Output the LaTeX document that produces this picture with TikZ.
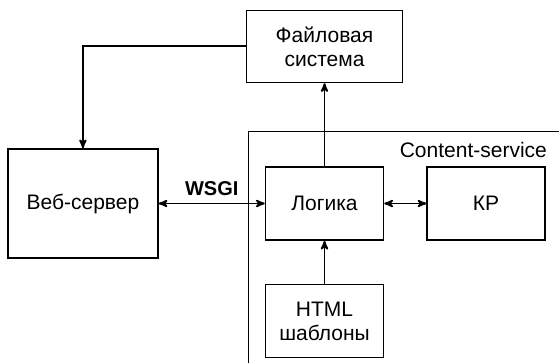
\documentclass[tikz,border=0pt]{standalone}
\usepackage{fontspec}
\setmainfont{Liberation Sans}
\usetikzlibrary{arrows}
\usetikzlibrary{positioning}

\begin{document}
\begin{tikzpicture}[x=1pt,y=-1pt,>=stealth',auto,line width=1.6pt,
                    block/.style={rectangle,draw,align=center,inner sep=0pt,
                      minimum width=118pt,minimum height=73pt,font=\fontsize{21}{24}\selectfont},
                    link/.style={line width=1.9pt}]
      \useasboundingbox (0,0) rectangle (559,363);

      % Content-service
      \draw[line width=1pt] (248,370) |- (570,132);
      \node[anchor=east,font=\fontsize{21}{24}\selectfont] (cs) at (551,150) {Content-service};

      \node[block] (logic) at (324.5,203.5) {Логика};
      \node[block] (kp) [right=42pt of logic] {КР};
      \node[block] (tpl) [below=43pt of logic] {HTML\\шаблоны};
      \node[block,minimum width=156pt,minimum height=72pt] (fs) [above=83pt of logic] {Файловая\\система};
      \node[block,minimum width=150pt,minimum height=109pt] (web) [left=106pt of logic] {Веб-сервер};

      \draw[link,->] (fs.west) -| (web.north);
      \draw[link,->] (logic) -- (fs);
      \draw[link,<->] (web) -- node[above=4pt,font=\fontsize{20}{24}\selectfont\bfseries] {WSGI} (logic);
      \draw[link,<->] (logic) -- (kp);
      \draw[link,->] (tpl) -- (logic);
\end{tikzpicture}
\end{document}
